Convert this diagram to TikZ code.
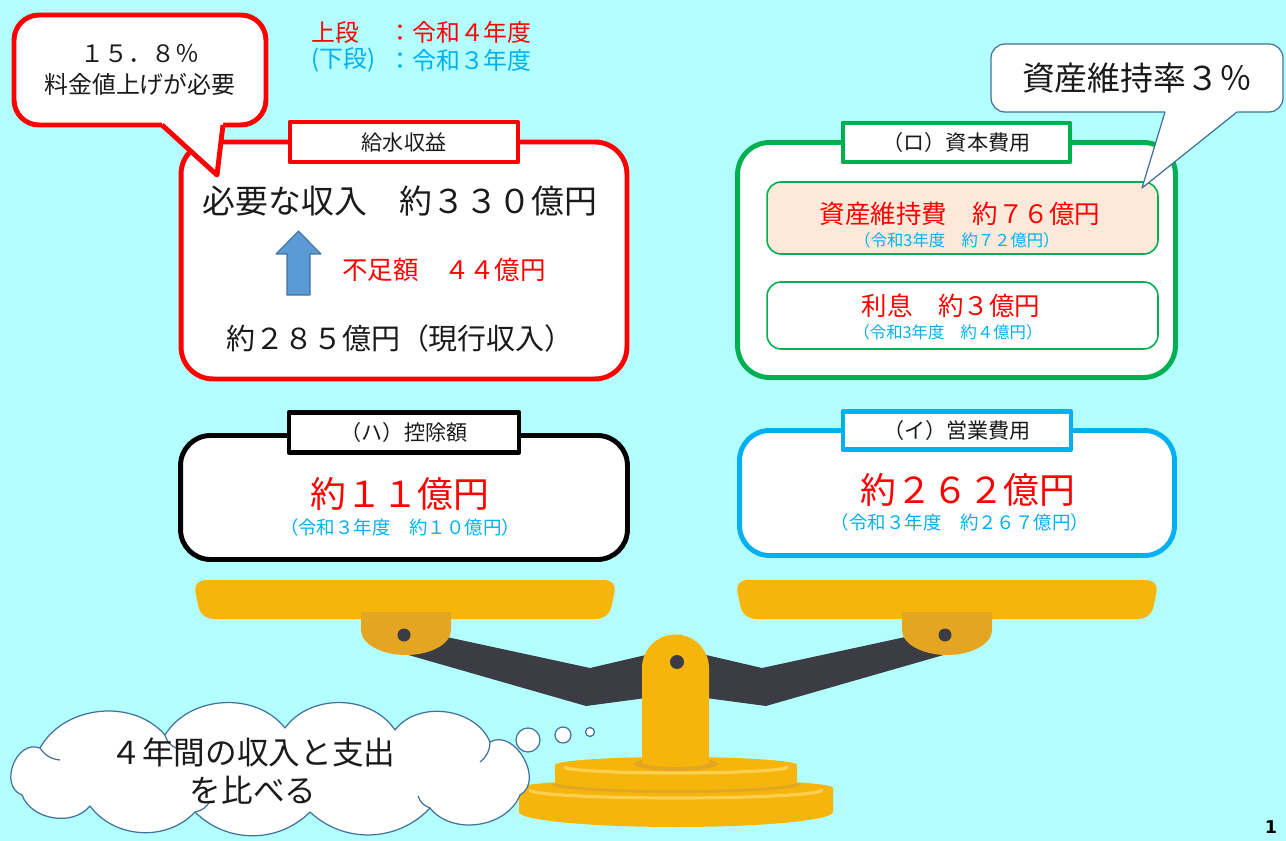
\documentclass[tikz,border=0pt]{standalone}
\usepackage{fontspec}
\setmainfont{Noto Sans CJK JP}
\newfontfamily\pgnumfont{DejaVu Sans}
\usepackage{tikz}
\usetikzlibrary{calc}
\definecolor{sky}{HTML}{B3FFFF}
\definecolor{wred}{HTML}{FF0000}
\definecolor{wgreen}{HTML}{00B050}
\definecolor{wblue}{HTML}{00B0F0}
\definecolor{ink}{HTML}{1A1A1A}
\definecolor{peach}{HTML}{FDE9D9}
\definecolor{steel}{HTML}{41719C}
\definecolor{arrowblue}{HTML}{5B9BD5}
\definecolor{gold}{HTML}{F6B50A}
\definecolor{goldhi}{HTML}{FAD04E}
\definecolor{golddk}{HTML}{E4A622}
\definecolor{beam}{HTML}{3C3C44}
\tikzset{
  panel/.style={fill=white, line width=2.8pt, rounded corners=0.64cm, outer sep=0pt},
  tag/.style={draw, fill=white, line width=2.8pt, minimum width=4.56cm, minimum height=0.8cm,
    inner sep=0pt, outer sep=0pt, text=ink, font=\fontsize{12}{14}\selectfont},
  inset/.style={draw=wgreen, line width=0.9pt, rounded corners=0.28cm, minimum width=7.82cm, outer sep=0pt},
  headline/.style={text=ink, font=\fontsize{18.7}{22}\selectfont},
  value/.style={font=\fontsize{14.5}{17}\selectfont},
  amount/.style={text=wred, font=\fontsize{20.4}{24}\selectfont},
  prev/.style={text=wblue, font=\fontsize{10.5}{12}\selectfont},
  prevsm/.style={text=wblue, font=\fontsize{9.3}{11}\selectfont},
  legend/.style={anchor=west, inner sep=0pt, font=\fontsize{13.6}{16}\selectfont},
  bubble/.style={draw=steel, fill=white, line width=0.7pt},
  cloudline/.style={draw=steel, fill=white, line width=0.7pt}
}

\begin{document}
\begin{tikzpicture}[x=0.02cm, y=-0.02cm, line join=round]
  % canvas, one unit = one pixel, y runs down
  \fill[sky] (0,0) rectangle (1286,841);
  \useasboundingbox (0,0) rectangle (1286,841);

  % legend
  \node[legend, text=wred] (upperKey) at (311,32) {上段};
  \node[legend, text=wred] (upperYear) at (388,32) {：令和４年度};
  \node[legend, text=wblue] (lowerKey) at (311,60) {(下段)};
  \node[legend, text=wblue] (lowerYear) at (388,60) {：令和３年度};

  % revenue
  \node[panel, draw=wred, minimum width=8.92cm, minimum height=4.74cm] (revenue) at (404,260.5) {};
  \node[tag, draw=wred] (revenueTag) at (revenue.north) {給水収益};
  \node[headline] (need) at (400,201) {必要な収入　約３３０億円};
  \draw[steel, fill=arrowblue, line width=0.6pt] (287,295) -- (287,254) -- (276,254) -- (298.5,231)
    -- (321,254) -- (310,254) -- (310,295) -- cycle;
  \node[value, text=wred] (gap) at (444,270) {不足額　４４億円};
  \node[text=ink, font=\fontsize{16.5}{19}\selectfont] (current) at (400,338) {約２８５億円（現行収入）};

  % capital cost
  \node[panel, draw=wgreen, minimum width=8.76cm, minimum height=4.7cm] (capital) at (956.5,260) {};
  \node[tag, draw=wgreen, minimum width=4.54cm, minimum height=0.78cm] (capitalTag) at (capital.north) {（ロ）資本費用};
  \node[inset, fill=peach, minimum height=1.44cm] (upkeep) at (962.5,218) {};
  \node[inset, fill=white, minimum height=1.34cm] (interest) at (962.5,315.5) {};
  \node[value, text=wred] (upkeepVal) at (960,214) {資産維持費　約７６億円};
  \node[prevsm] (upkeepPrev) at (957,240) {（令和3年度　約７２億円）};
  \node[value, text=wred] (interestVal) at (951,306) {利息　約３億円};
  \node[prevsm] (interestPrev) at (948,332) {（令和3年度　約４億円）};

  % deduction
  \node[panel, draw=black, rounded corners=0.6cm, minimum width=8.94cm, minimum height=2.48cm] (deduct) at (404,497.5) {};
  \node[tag, draw=black, minimum width=4.6cm] (deductTag) at ($(deduct.north)+(0,-3)$) {（ハ）控除額};
  \node[amount] (deductVal) at (400,494) {約１１億円};
  \node[prev] (deductPrev) at (400,527) {（令和３年度　約１０億円）};

  % operating cost
  \node[panel, draw=wblue, rounded corners=0.6cm, minimum width=8.7cm, minimum height=2.5cm] (opex) at (957,493) {};
  \node[tag, draw=wblue, minimum height=0.76cm] (opexTag) at (opex.north) {（イ）営業費用};
  \node[amount] (opexVal) at (968,490) {約２６２億円};
  \node[prev] (opexPrev) at (960,522) {（令和３年度　約２６７億円）};

  % callouts
  \node[draw=wred, fill=white, line width=2.8pt, rounded corners=0.5cm, outer sep=0pt,
    minimum width=5.04cm, minimum height=2.2cm, align=center, text=ink,
    font=\fontsize{13.6}{18}\selectfont] (raise) at (140,70) {１５．８％\\料金値上げが必要};
  \coordinate (raiseTip) at (217,175);
  \fill[white] ($(raise.south)+(22,-4)$) -- ($(raise.south)+(22,0)$) -- (raiseTip)
    -- ($(raise.south)+(83,0)$) -- ($(raise.south)+(83,-4)$) -- cycle;
  \draw[wred, line width=2.8pt] ($(raise.south)+(22,0)$) -- (raiseTip) -- ($(raise.south)+(83,0)$);

  \node[draw=steel, fill=white, line width=0.7pt, rounded corners=0.28cm, outer sep=0pt,
    minimum width=5.84cm, minimum height=1.36cm, headline] (rate) at (1137,78) {資産維持率３％};
  \coordinate (rateTip) at (1142,188);
  \fill[white] ($(rate.south)+(28,-2)$) -- ($(rate.south)+(28,0)$) -- (rateTip)
    -- ($(rate.south)+(100,0)$) -- ($(rate.south)+(100,-2)$) -- cycle;
  \draw[steel, line width=0.7pt] ($(rate.south)+(28,0)$) -- (rateTip) -- ($(rate.south)+(100,0)$);

  % balance: arms first, the rest sits on top
  \fill[beam] (405,628) -- (590,668) -- (676,648) -- (676,694) -- (586,706) -- (398,652) -- cycle;
  \fill[beam] (947,628) -- (762,668) -- (676,648) -- (676,694) -- (766,706) -- (954,652) -- cycle;
  \fill[gold, rounded corners=0.24cm] (193,580) -- (617,580) -- (609,619) -- (201,619) -- cycle;
  \fill[gold, rounded corners=0.24cm] (735,580) -- (1159,580) -- (1151,619) -- (743,619) -- cycle;
  \foreach \hx in {406,947}{
    \fill[golddk] (\hx-45,612) -- (\hx+45,612) -- (\hx+45,630)
      arc[start angle=0, end angle=180, x radius=45, y radius=25] -- cycle;
    \fill[beam] (\hx-2,635) circle[radius=6.5];
  }
  % base
  \fill[gold] (519,788) -- (519,812) arc[start angle=180, end angle=0, x radius=157, y radius=15]
    -- (833,788) arc[start angle=0, end angle=-180, x radius=157, y radius=9] -- cycle;
  \draw[goldhi, line width=1.8pt, line cap=round] (530,790) arc[start angle=180, end angle=0, x radius=146, y radius=8];
  \fill[golddk] (676,785) ellipse[x radius=124, y radius=8];
  \fill[gold] (555,765) -- (555,782) arc[start angle=180, end angle=0, x radius=121, y radius=8]
    -- (797,765) arc[start angle=0, end angle=-180, x radius=121, y radius=8] -- cycle;
  \draw[goldhi, line width=1.8pt, line cap=round] (565,767) arc[start angle=180, end angle=0, x radius=111, y radius=6];
  \fill[golddk] (676,764) ellipse[x radius=42, y radius=7];
  \fill[gold] (642,762) -- (642,668) arc[start angle=180, end angle=360, radius=33.5]
    -- (709,762) arc[start angle=0, end angle=180, x radius=33.5, y radius=5] -- cycle;
  \fill[beam] (677,662) circle[radius=7];

  % thought cloud, puffs go round clockwise
  \draw[cloudline] (22,795) to[bend left=90, looseness=1.3] (40,748) to[bend left=55] (165,735)
    to[bend left=55] (285,728) to[bend left=55] (395,730) to[bend left=60] (490,742)
    to[bend left=90, looseness=1.2] (520,795) to[bend left=60] (430,808) to[bend left=45] (310,812)
    to[bend left=45] (195,812) to[bend left=50] (90,806) to[bend left=60] (22,795) -- cycle;
  % small creases inside the puffs
  \draw[steel, line width=0.7pt] (40,748) to[bend right=25] (60,760)
    (165,735) to[bend right=25] (176,748)
    (490,742) to[bend left=25] (480,762)
    (430,808) to[bend left=25] (418,796)
    (195,812) to[bend right=25] (210,801);
  \node[text=ink, align=center, font=\fontsize{18}{21.5}\selectfont] (compareText) at (253,771)
    {４年間の収入と支出\\を比べる};
  \draw[bubble] (528,740) circle[radius=12];
  \draw[bubble] (563,735) circle[radius=8];
  \draw[bubble] (590,732) circle[radius=4.5];

  \node[anchor=south, inner sep=0pt, font=\pgnumfont\bfseries\fontsize{10}{12}\selectfont] (pageNo) at (1271,834) {1};
\end{tikzpicture}
\end{document}
